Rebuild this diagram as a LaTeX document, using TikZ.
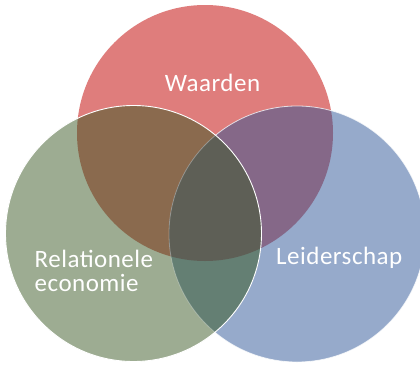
\documentclass[tikz,border=0pt]{standalone}
\usepackage{fontspec}
\setmainfont{Carlito}
\definecolor{cR}{HTML}{DF7D7C}
\definecolor{cG}{HTML}{9DAC92}
\definecolor{cB}{HTML}{96AACB}
\definecolor{cRG}{HTML}{8A6A4E}
\definecolor{cRB}{HTML}{856888}
\definecolor{cGB}{HTML}{647F73}
\definecolor{cRGB}{HTML}{5E5F56}
\tikzset{lbl/.style={text=white,font=\fontsize{25}{25}\selectfont,inner sep=0pt}}
\begin{document}
\begin{tikzpicture}[x=1pt,y=-1pt]
\useasboundingbox (0,0) rectangle (420,364);
\fill[white] (0,0) rectangle (420,364);
\def\cr{(205,133) circle[radius=128]}
\def\cg{(133.5,233.5) circle[radius=128]}
\def\cb{(297,234) circle[radius=128]}
\begin{scope}
\clip (0,0) rectangle (420,364);
\fill[cR] \cr;
\fill[cB] \cb;
\fill[cG] \cg;
\begin{scope}\clip \cr; \fill[cRG] \cg; \fill[cRB] \cb; \end{scope}
\begin{scope}\clip \cg; \fill[cGB] \cb; \end{scope}
\begin{scope}\clip \cr; \clip \cg; \fill[cRGB] \cb; \end{scope}
\begin{scope}[even odd rule]
\clip (-10,-10) rectangle (430,374) \cg;
\draw[white,opacity=0.75,line width=0.8pt] \cb;
\end{scope}
\begin{scope}
\clip \cg;
\draw[white,opacity=0.3,line width=0.8pt] \cb;
\end{scope}
\draw[white,line width=0.9pt] \cg;
\end{scope}
\node[lbl,anchor=base] (w) at (212.5,91) {\addfontfeature{LetterSpace=2}Waarden};
\node[lbl,anchor=base west] (r) at (34.5,267) {\addfontfeature{LetterSpace=2}Relationele};
\node[lbl,anchor=base west] (e) at (34.5,291) {\addfontfeature{LetterSpace=2}economie};
\node[lbl,anchor=base west] (l) at (276,264) {\addfontfeature{LetterSpace=2}Leiderschap};
\end{tikzpicture}
\end{document}
